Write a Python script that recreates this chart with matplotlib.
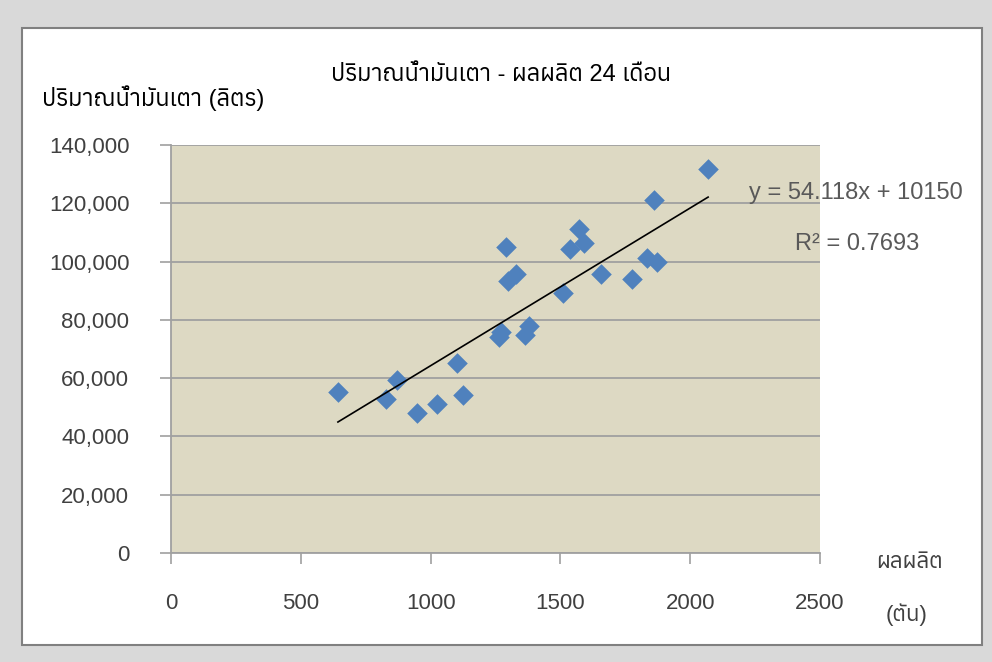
import numpy as np
import matplotlib
matplotlib.use("Agg")
import matplotlib.pyplot as plt
from matplotlib import font_manager
from matplotlib.ft2font import FT2Font
from matplotlib.patches import Rectangle

# data (24 months)
production = [643, 828, 870, 948, 1025, 1100, 1125, 1263, 1271, 1290, 1298, 1329,
              1364, 1379, 1510, 1537, 1572, 1591, 1656, 1776, 1834, 1861, 1872, 2069]
fuel_oil = [55200, 52800, 59400, 48000, 51100, 65200, 54200, 74100, 75800, 105000, 93300, 95700,
            74800, 77900, 89200, 104300, 111200, 106400, 95700, 94000, 101200, 121100, 99800, 131700]
slope = 54.118
intercept = 10150
r_squared = 0.7693

x_ticks = [0, 500, 1000, 1500, 2000, 2500]
y_ticks = [0, 20000, 40000, 60000, 80000, 100000, 120000, 140000]

title = "ปริมาณน้ำมันเตา - ผลผลิต 24 เดือน"
ylabel = "ปริมาณน้ำมันเตา (ลิตร)"
xlabel1 = "ผลผลิต"
xlabel2 = "(ตัน)"


# find a font with thai glyphs
thai = []
for f in font_manager.fontManager.ttflist:
    try:
        if 0x0E1B in FT2Font(f.fname).get_charmap():
            thai.append(f.name)
    except Exception:
        pass
thai = sorted(set(thai))
plt.rcParams['font.family'] = ['Liberation Sans'] + thai + ['DejaVu Sans']

fig = plt.figure(figsize=(9.92, 6.62), dpi=100, facecolor='#d9d9d9')
fig.patches.append(Rectangle((22 / 992, 17 / 662), 960 / 992, 617 / 662, transform=fig.transFigure,
                             facecolor='white', edgecolor='#808080', linewidth=1.5, zorder=-5))

ax = fig.add_axes([171 / 992, 109 / 662, 649 / 992, 408 / 662])
ax.set_facecolor('#ddd9c3')
ax.set_xlim(0, 2500)
ax.set_ylim(0, 140000)
ax.set_xticks(x_ticks)
ax.set_yticks(y_ticks)
ax.set_yticklabels([f"{v:,}" for v in y_ticks])
ax.grid(axis='y', color='#a0a0a0', linewidth=1.3)
ax.set_axisbelow(True)
for s in ['top', 'right']:
    ax.spines[s].set_visible(False)
for s in ['left', 'bottom']:
    ax.spines[s].set_color('#a0a0a0')
    ax.spines[s].set_linewidth(1.3)
ax.tick_params(axis='both', length=8, width=1.2, color='#a0a0a0', labelsize=16, labelcolor='#404040')
ax.tick_params(axis='x', pad=21)
ax.tick_params(axis='y', pad=22)

ax.scatter(production, fuel_oil, marker='D', s=110, color='#4f81bd', linewidths=0, zorder=3)

xs = np.array([min(production), max(production)])
ax.plot(xs, slope * xs + intercept, color='black', linewidth=1.2, zorder=4)

fig.text(501 / 992, 1 - 75 / 662, title, ha='center', va='center', fontsize=17, color='black')
fig.text(42 / 992, 1 - 98 / 662, ylabel, ha='left', va='center', fontsize=17, color='black')
fig.text(910 / 992, 1 - 562 / 662, xlabel1, ha='center', va='center', fontsize=16, color='#404040')
fig.text(907 / 992, 1 - 615 / 662, xlabel2, ha='center', va='center', fontsize=16, color='#404040')
fig.text(856 / 992, 1 - 193 / 662, f"y = {slope}x + {intercept}", ha='center', va='center',
         fontsize=17, color='#595959')
fig.text(857 / 992, 1 - 244 / 662, f"R² = {r_squared}", ha='center', va='center',
         fontsize=17, color='#595959')

fig.savefig('out.png', dpi=100, facecolor=fig.get_facecolor())
